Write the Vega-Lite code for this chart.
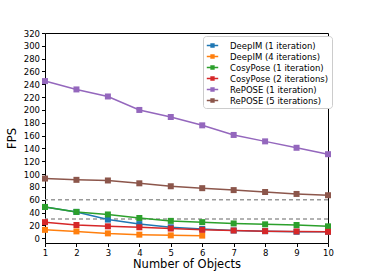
{
  "$schema": "https://vega.github.io/schema/vega-lite/v6.json",
  "autosize": "none",
  "width": 283,
  "height": 210,
  "padding": {"left": 45, "top": 33, "right": 37, "bottom": 31},
  "background": "white",
  "config": {
    "font": "DejaVu Sans",
    "view": {"stroke": "black", "strokeWidth": 1},
    "axis": {"grid": false, "domain": false, "tickColor": "black", "tickSize": 3.5, "labelColor": "black", "labelFontSize": 8.5, "titleFontSize": 11.5, "titleFontWeight": "normal", "titleColor": "black", "labelPadding": 2, "labelOverlap": false, "labelFlush": false}
  },
  "layer": [
    {
      "data": {"values": [{"y": 60}, {"y": 30}]},
      "mark": {"type": "rule", "color": "#999999", "strokeDash": [4, 3], "strokeWidth": 1.5},
      "encoding": {"y": {"field": "y", "type": "quantitative", "title": "FPS", "scale": {"domain": [-7.5, 320], "nice": false}, "axis": {"values": [0, 20, 40, 60, 80, 100, 120, 140, 160, 180, 200, 220, 240, 260, 280, 300, 320], "titlePadding": 6}}}
    },
    {
      "data": {"values": [
        {"s": "DeepIM (1 iteration)", "n": 1, "fps": 48.7},
        {"s": "DeepIM (1 iteration)", "n": 2, "fps": 41},
        {"s": "DeepIM (1 iteration)", "n": 3, "fps": 29},
        {"s": "DeepIM (1 iteration)", "n": 4, "fps": 22},
        {"s": "DeepIM (1 iteration)", "n": 5, "fps": 17},
        {"s": "DeepIM (1 iteration)", "n": 6, "fps": 14.3},
        {"s": "DeepIM (1 iteration)", "n": 7, "fps": 12},
        {"s": "DeepIM (1 iteration)", "n": 8, "fps": 11},
        {"s": "DeepIM (1 iteration)", "n": 9, "fps": 10},
        {"s": "DeepIM (1 iteration)", "n": 10, "fps": 10},
        {"s": "DeepIM (4 iterations)", "n": 1, "fps": 13},
        {"s": "DeepIM (4 iterations)", "n": 2, "fps": 10.6},
        {"s": "DeepIM (4 iterations)", "n": 3, "fps": 7.5},
        {"s": "DeepIM (4 iterations)", "n": 4, "fps": 5.5},
        {"s": "DeepIM (4 iterations)", "n": 5, "fps": 4.4},
        {"s": "DeepIM (4 iterations)", "n": 6, "fps": 4},
        {"s": "CosyPose (1 iteration)", "n": 1, "fps": 48.7},
        {"s": "CosyPose (1 iteration)", "n": 2, "fps": 41},
        {"s": "CosyPose (1 iteration)", "n": 3, "fps": 37},
        {"s": "CosyPose (1 iteration)", "n": 4, "fps": 31.5},
        {"s": "CosyPose (1 iteration)", "n": 5, "fps": 27},
        {"s": "CosyPose (1 iteration)", "n": 6, "fps": 25},
        {"s": "CosyPose (1 iteration)", "n": 7, "fps": 23},
        {"s": "CosyPose (1 iteration)", "n": 8, "fps": 21.6},
        {"s": "CosyPose (1 iteration)", "n": 9, "fps": 20.6},
        {"s": "CosyPose (1 iteration)", "n": 10, "fps": 18.5},
        {"s": "CosyPose (2 iterations)", "n": 1, "fps": 25},
        {"s": "CosyPose (2 iterations)", "n": 2, "fps": 20.6},
        {"s": "CosyPose (2 iterations)", "n": 3, "fps": 18.5},
        {"s": "CosyPose (2 iterations)", "n": 4, "fps": 17},
        {"s": "CosyPose (2 iterations)", "n": 5, "fps": 15},
        {"s": "CosyPose (2 iterations)", "n": 6, "fps": 13},
        {"s": "CosyPose (2 iterations)", "n": 7, "fps": 12},
        {"s": "CosyPose (2 iterations)", "n": 8, "fps": 11},
        {"s": "CosyPose (2 iterations)", "n": 9, "fps": 10.5},
        {"s": "CosyPose (2 iterations)", "n": 10, "fps": 10},
        {"s": "RePOSE (1 iteration)", "n": 1, "fps": 245},
        {"s": "RePOSE (1 iteration)", "n": 2, "fps": 232},
        {"s": "RePOSE (1 iteration)", "n": 3, "fps": 221},
        {"s": "RePOSE (1 iteration)", "n": 4, "fps": 200},
        {"s": "RePOSE (1 iteration)", "n": 5, "fps": 189},
        {"s": "RePOSE (1 iteration)", "n": 6, "fps": 176},
        {"s": "RePOSE (1 iteration)", "n": 7, "fps": 161},
        {"s": "RePOSE (1 iteration)", "n": 8, "fps": 151},
        {"s": "RePOSE (1 iteration)", "n": 9, "fps": 141},
        {"s": "RePOSE (1 iteration)", "n": 10, "fps": 131},
        {"s": "RePOSE (5 iterations)", "n": 1, "fps": 93},
        {"s": "RePOSE (5 iterations)", "n": 2, "fps": 91},
        {"s": "RePOSE (5 iterations)", "n": 3, "fps": 90},
        {"s": "RePOSE (5 iterations)", "n": 4, "fps": 85.6},
        {"s": "RePOSE (5 iterations)", "n": 5, "fps": 81},
        {"s": "RePOSE (5 iterations)", "n": 6, "fps": 78},
        {"s": "RePOSE (5 iterations)", "n": 7, "fps": 75},
        {"s": "RePOSE (5 iterations)", "n": 8, "fps": 72},
        {"s": "RePOSE (5 iterations)", "n": 9, "fps": 69},
        {"s": "RePOSE (5 iterations)", "n": 10, "fps": 67}
      ]},
      "mark": {"type": "line", "strokeWidth": 1.5, "point": {"shape": "square", "size": 36, "filled": true, "opacity": 1}},
      "encoding": {
        "x": {"field": "n", "type": "quantitative", "title": "Number of Objects", "scale": {"domain": [1, 10], "nice": false}, "axis": {"values": [1, 2, 3, 4, 5, 6, 7, 8, 9, 10], "titlePadding": 1}},
        "y": {"field": "fps", "type": "quantitative", "title": "FPS", "scale": {"domain": [-7.5, 320], "nice": false}, "axis": {"values": [0, 20, 40, 60, 80, 100, 120, 140, 160, 180, 200, 220, 240, 260, 280, 300, 320], "titlePadding": 6}},
        "color": {
          "field": "s", "type": "nominal",
          "scale": {
            "domain": ["DeepIM (1 iteration)", "DeepIM (4 iterations)", "CosyPose (1 iteration)", "CosyPose (2 iterations)", "RePOSE (1 iteration)", "RePOSE (5 iterations)"],
            "range": ["#1f77b4", "#ff7f0e", "#2ca02c", "#d62728", "#9467bd", "#8c564b"]
          },
          "legend": {
            "title": null, "orient": "none", "legendX": 158, "legendY": 3,
            "fillColor": "white", "strokeColor": "#cccccc", "cornerRadius": 3, "padding": 3,
            "labelFontSize": 8.5, "labelColor": "black", "rowPadding": 0, "labelOffset": 11,
            "symbolType": "M-1,0L1,0M-0.25,-0.25L0.25,-0.25L0.25,0.25L-0.25,0.25Z",
            "symbolSize": 130, "symbolStrokeWidth": 1.5
          }
        }
      }
    }
  ]
}
